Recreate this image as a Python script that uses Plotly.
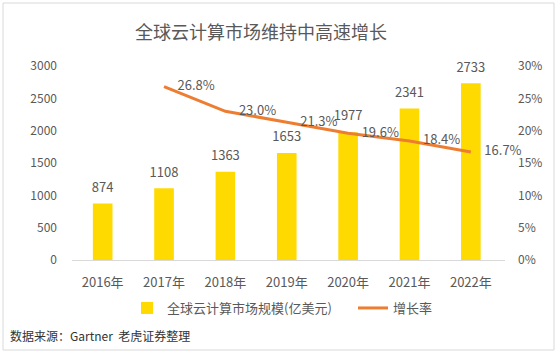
import plotly.graph_objects as go

years = ["2016年", "2017年", "2018年", "2019年", "2020年", "2021年", "2022年"]
market_size = [874, 1108, 1363, 1653, 1977, 2341, 2733]
growth_years = ["2017年", "2018年", "2019年", "2020年", "2021年", "2022年"]
growth_rate = [0.268, 0.230, 0.213, 0.196, 0.184, 0.167]

W, H = 557, 357
FONT = "Noto Sans CJK SC"
GRAY = "#595959"
CLEAR = "rgba(0,0,0,0)"

fig = go.Figure()
fig.add_trace(go.Bar(
    x=years, y=market_size, name="全球云计算市场规模(亿美元)",
    marker=dict(color="#FFDA00"),
    cliponaxis=False, legend="legend",
))
# data labels above the bars
fig.add_trace(go.Scatter(
    x=years, y=market_size, mode="markers+text", showlegend=False,
    marker=dict(size=12, color=CLEAR),
    text=[str(v) for v in market_size], textposition="top center",
    textfont=dict(size=13, color=GRAY, family=FONT),
    cliponaxis=False, hoverinfo="skip",
))
fig.add_trace(go.Scatter(
    x=growth_years, y=growth_rate, name="增长率", yaxis="y2",
    mode="lines+markers+text", line=dict(color="#ED7D31", width=3),
    marker=dict(size=20, color=CLEAR),
    text=[f"{v*100:.1f}%" for v in growth_rate], textposition="middle right",
    textfont=dict(size=13, color=GRAY, family=FONT),
    cliponaxis=False, legend="legend2",
))

legend_common = dict(orientation="h", y=1 - 308 / H, xanchor="left",
                     yanchor="middle", font=dict(size=13, color=GRAY, family=FONT),
                     bgcolor=CLEAR)

fig.update_layout(
    template="none",
    width=W, height=H,
    margin=dict(l=0, r=0, t=0, b=0),
    paper_bgcolor="white", plot_bgcolor="white",
    font=dict(family=FONT, color=GRAY, size=12),
    bargap=0.68,
    title=dict(text="全球云计算市场维持中高速增长", x=261 / W, y=1 - 33 / H,
               xanchor="center", yanchor="middle", xref="paper", yref="paper",
               automargin=False,
               font=dict(size=18, color=GRAY, family=FONT)),
    xaxis=dict(domain=[72 / W, 505 / W], showgrid=False, showline=True,
               linecolor="#D9D9D9", linewidth=1, ticks="", ticklabelstandoff=10,
               automargin=False, zeroline=False,
               tickfont=dict(size=13, color=GRAY)),
    yaxis=dict(domain=[1 - 260 / H, 1 - 66 / H], range=[0, 3000], dtick=500,
               showgrid=False, zeroline=False, showline=False, ticks="",
               automargin=False,
               ticklabelstandoff=14, tickfont=dict(size=12, color=GRAY)),
    yaxis2=dict(overlaying="y", side="right", range=[0, 0.30], dtick=0.05,
                tickformat=".0%", showgrid=False, zeroline=False, showline=False,
                automargin=False,
                ticks="", ticklabelstandoff=12, tickfont=dict(size=12, color=GRAY)),
    legend=dict(x=127 / W, **legend_common),
    legend2=dict(x=353 / W, **legend_common),
    showlegend=True,
)

fig.add_annotation(text="数据来源：Gartner  老虎证券整理", x=8 / W, y=1 - 335 / H,
                   xref="paper", yref="paper", xanchor="left", yanchor="middle",
                   showarrow=False, font=dict(size=12, color="#333333", family=FONT))
fig.add_shape(type="rect", xref="paper", yref="paper",
              x0=3 / W, x1=554 / W, y0=1 - 350 / H, y1=1 - 3 / H,
              line=dict(color="#D9D9D9", width=1), fillcolor=CLEAR)

fig.write_html("out.html", config={"displayModeBar": False},
               post_script="document.body.style.margin='0';document.body.style.overflow='hidden';")
